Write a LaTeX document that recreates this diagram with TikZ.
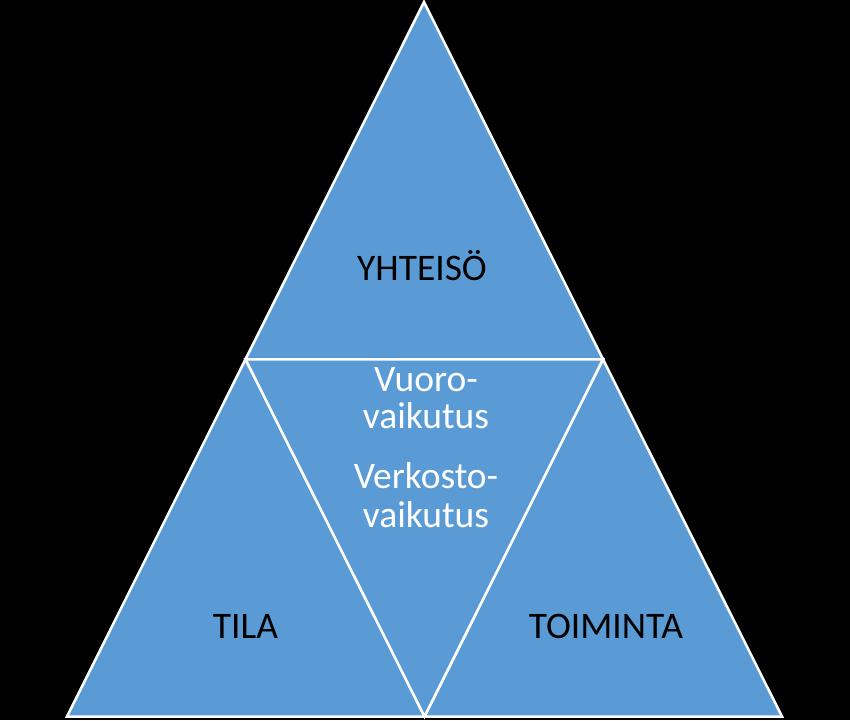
\documentclass[tikz,border=0pt]{standalone}
\usepackage{fontspec}
\setmainfont{Carlito}
\definecolor{triblue}{HTML}{5B9BD5}
\tikzset{
  tri/.style={fill=triblue, draw=white, line width=2.5pt, line join=miter},
  darklabel/.style={text=black, font=\fontsize{37.5}{40}\selectfont, anchor=base, inner sep=0pt},
  lightlabel/.style={text=white, font=\fontsize{37.5}{40}\selectfont, anchor=base, inner sep=0pt}
}
\begin{document}
\begin{tikzpicture}[x=1pt,y=-1pt]
  \fill[black] (0,0) rectangle (850,720);
  \useasboundingbox (0,0) rectangle (850,720);
  \coordinate (A) at (424,2);
  \coordinate (L) at (67,716.5);
  \coordinate (R) at (782,716.5);
  \coordinate (ML) at (245.5,359.25);
  \coordinate (MR) at (603,359.25);
  \coordinate (MB) at (424.5,716.5);
  \filldraw[tri] (A) -- (MR) -- (ML) -- cycle;
  \filldraw[tri] (ML) -- (MB) -- (L) -- cycle;
  \filldraw[tri] (MR) -- (R) -- (MB) -- cycle;
  \filldraw[tri] (ML) -- (MR) -- (MB) -- cycle;
  \node[darklabel] (yht) at (422,280) {YHTEISÖ};
  \node[darklabel] (tila) at (245.5,638) {TILA};
  \node[darklabel] (toim) at (606,638) {TOIMINTA};
  \node[lightlabel] (v1) at (426,391) {Vuoro-};
  \node[lightlabel] (v2) at (426,428) {vaikutus};
  \node[lightlabel] (v3) at (426,488) {Verkosto-};
  \node[lightlabel] (v4) at (426,527) {vaikutus};
\end{tikzpicture}
\end{document}
